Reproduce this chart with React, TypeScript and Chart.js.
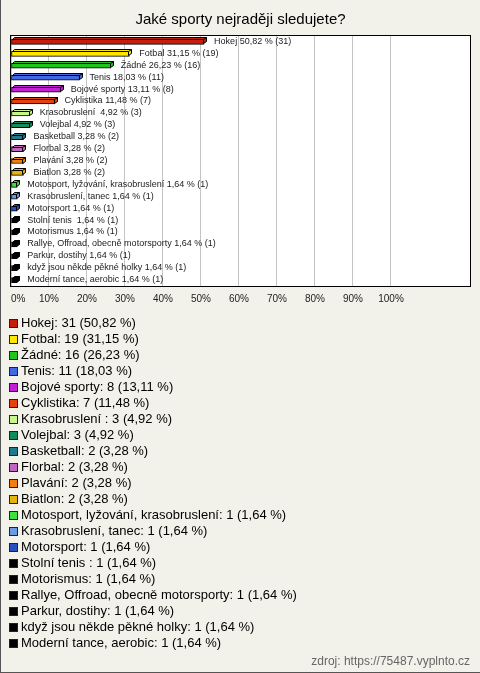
import React, { useEffect, useRef } from 'react';
import { Chart, registerables } from 'chart.js';

Chart.register(...registerables);

const TITLE = 'Jaké sporty nejraději sledujete?';
const SOURCE = 'zdroj: https://75487.vyplnto.cz';

const categories = [
  'Hokej',
  'Fotbal',
  'Žádné',
  'Tenis',
  'Bojové sporty',
  'Cyklistika',
  'Krasobruslení ',
  'Volejbal',
  'Basketball',
  'Florbal',
  'Plavání',
  'Biatlon',
  'Motosport, lyžování, krasobruslení',
  'Krasobruslení, tanec',
  'Motorsport',
  'Stolní tenis ',
  'Motorismus',
  'Rallye, Offroad, obecně motorsporty',
  'Parkur, dostihy',
  'když jsou někde pěkné holky',
  'Moderní tance, aerobic',
];

const counts = [31, 19, 16, 11, 8, 7, 3, 3, 2, 2, 2, 2, 1, 1, 1, 1, 1, 1, 1, 1, 1];

const percents = [
  50.82, 31.15, 26.23, 18.03, 13.11, 11.48, 4.92, 4.92, 3.28, 3.28, 3.28, 3.28,
  1.64, 1.64, 1.64, 1.64, 1.64, 1.64, 1.64, 1.64, 1.64,
];

const colors = [
  '#c41f0c', '#ffe600', '#1fc41f', '#4169e1', '#c41ed6', '#e4420f', '#c8f58a',
  '#128c5e', '#1f7a8c', '#c066c0', '#f08010', '#e6b20f', '#3fe03f', '#6b9be0',
  '#2a4fbf', '#000000', '#000000', '#000000', '#000000', '#000000', '#000000',
];

const xTickValues = [0, 10, 20, 30, 40, 50, 60, 70, 80, 90, 100];
const X_MAX = 120.79;

const FONT = '"Liberation Sans", Arial, Helvetica, sans-serif';
const BG = '#f3f2ea';
const DEPTH = 2;

const fmt = (v: number) => v.toFixed(2).replace('.', ',');

const decorPlugin = {
  id: 'decor',
  beforeDraw(chart: any) {
    const { ctx, chartArea: a, width, height } = chart;
    ctx.save();
    ctx.fillStyle = BG;
    ctx.fillRect(0, 0, width, height);
    ctx.fillStyle = '#ffffff';
    ctx.fillRect(a.left, a.top, a.right - a.left, a.bottom - a.top);
    // outer frame lines
    ctx.fillStyle = '#555555';
    ctx.fillRect(0, 0, 1, height);
    ctx.fillRect(0, height - 1, width, 1);
    ctx.restore();
  },
  afterDatasetsDraw(chart: any) {
    const { ctx, chartArea: a } = chart;
    const meta = chart.getDatasetMeta(0);
    ctx.save();
    ctx.lineWidth = 1;
    meta.data.forEach((bar: any, i: number) => {
      const p = bar.getProps(['x', 'y', 'base', 'height'], true);
      const x = Math.round(p.x);
      const base = Math.round(p.base);
      const top = Math.round(p.y - p.height / 2);
      const bottom = Math.round(p.y + p.height / 2);
      const d = DEPTH;
      ctx.fillStyle = colors[i];
      ctx.strokeStyle = '#000000';
      // top face
      ctx.beginPath();
      ctx.moveTo(base + 0.5, top + 0.5);
      ctx.lineTo(base + d + 0.5, top - d + 0.5);
      ctx.lineTo(x + d + 0.5, top - d + 0.5);
      ctx.lineTo(x + 0.5, top + 0.5);
      ctx.closePath();
      ctx.fill();
      ctx.stroke();
      // side face
      ctx.beginPath();
      ctx.moveTo(x - 0.5, top + 0.5);
      ctx.lineTo(x + d + 0.5, top - d + 0.5);
      ctx.lineTo(x + d + 0.5, bottom - d - 0.5);
      ctx.lineTo(x - 0.5, bottom - 0.5);
      ctx.closePath();
      ctx.fill();
      ctx.stroke();
      // value label
      ctx.fillStyle = '#222222';
      ctx.font = `9px ${FONT}`;
      ctx.textBaseline = 'alphabetic';
      ctx.textAlign = 'left';
      ctx.fillText(`${categories[i]} ${fmt(percents[i])} % (${counts[i]})`, p.x + 10, p.y + 2);
    });
    // plot frame
    ctx.strokeStyle = '#000000';
    ctx.strokeRect(a.left - 0.5, a.top - 0.5, a.right - a.left + 1, a.bottom - a.top + 1);
    ctx.restore();
  },
  afterDraw(chart: any) {
    const { ctx } = chart;
    const start = chart.chartArea.bottom + 41;
    ctx.save();
    ctx.font = `13px ${FONT}`;
    ctx.textBaseline = 'alphabetic';
    ctx.textAlign = 'left';
    categories.forEach((name, i) => {
      const yb = Math.round(start + 16 * i);
      ctx.fillStyle = colors[i];
      ctx.fillRect(9, yb - 8, 9, 9);
      ctx.strokeStyle = '#222222';
      ctx.lineWidth = 1;
      ctx.strokeRect(9.5, yb - 7.5, 8, 8);
      ctx.fillStyle = '#000000';
      ctx.fillText(`${name}: ${counts[i]} (${fmt(percents[i])} %)`, 21, yb);
    });
    ctx.restore();
  },
};

export default function App() {
  const ref = useRef<HTMLCanvasElement | null>(null);

  useEffect(() => {
    if (!ref.current) return;
    const chart = new Chart(ref.current, {
      type: 'bar',
      data: {
        labels: categories,
        datasets: [
          {
            data: percents,
            backgroundColor: colors,
            borderColor: '#000000',
            borderWidth: 1,
            borderSkipped: false,
            barThickness: 5,
          },
        ],
      },
      options: {
        indexAxis: 'y',
        responsive: false,
        animation: false,
        devicePixelRatio: 1,
        layout: { padding: { left: 11, right: 10, top: 0, bottom: 0 } },
        plugins: {
          legend: { display: false },
          tooltip: { enabled: false },
          title: {
            display: true,
            text: TITLE,
            color: '#000000',
            font: { family: FONT, size: 15, weight: 'normal' },
            padding: { top: 11, bottom: 7 },
          },
          subtitle: {
            display: true,
            text: SOURCE,
            position: 'bottom',
            align: 'end',
            color: '#666666',
            font: { family: FONT, size: 12, weight: 'normal' },
            padding: { top: 342.6, bottom: 4 },
          },
        },
        scales: {
          x: {
            type: 'linear',
            min: 0,
            max: X_MAX,
            border: { display: false },
            grid: { color: '#c4c4c4', drawTicks: false, lineWidth: 1 },
            afterBuildTicks: (scale: any) => {
              scale.ticks = [...xTickValues.map((v) => ({ value: v })), { value: X_MAX }];
            },
            ticks: {
              align: 'inner',
              padding: 7,
              color: '#222222',
              font: { family: FONT, size: 10 },
              maxRotation: 0,
              autoSkip: false,
              callback: (v: any) => (Number(v) <= 100 ? `${v}%` : ''),
            },
          },
          y: {
            display: false,
            grid: { display: false },
          },
        },
      },
      plugins: [decorPlugin],
    } as any);
    return () => chart.destroy();
  }, []);

  return (
    <div style={{ position: 'fixed', left: 0, top: 0, width: 480, height: 673 }}>
      <canvas ref={ref} width={480} height={673} style={{ display: 'block', width: 480, height: 673 }} />
    </div>
  );
}
